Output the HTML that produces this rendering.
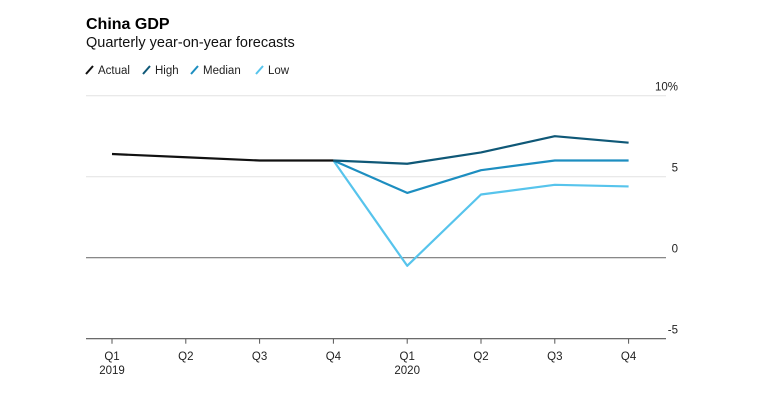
<!DOCTYPE html>
<html><head><meta charset="utf-8"><style>
body{margin:0;background:#fff;width:781px;height:404px;overflow:hidden;font-family:"Liberation Sans",Arial,sans-serif;}
svg{display:block}
</style></head><body>
<svg id="chart" width="781" height="404" viewBox="0 0 781 404">
<text x="86" y="29" font-size="16" font-weight="bold" fill="#000">China GDP</text>
<text x="86" y="47" font-size="14.5" fill="#111">Quarterly year-on-year forecasts</text>
<g id="legend"></g>
<g id="grid"></g><g id="lines"></g><g id="axis"></g>
</svg>
<script>
const categories=["Q1","Q2","Q3","Q4","Q1","Q2","Q3","Q4"];
const years=["2019","","","","2020","","",""];
const actual=[6.4,6.2,6.0,6.0,null,null,null,null];
const high=[null,null,null,6.0,5.8,6.5,7.5,7.1];
const median=[null,null,null,6.0,4.0,5.4,6.0,6.0];
const low=[null,null,null,6.0,-0.5,3.9,4.5,4.4];
const yTicks=[10,5,0,-5];
const yTickLabels=["10%","5","0","-5"];
const NS="http://www.w3.org/2000/svg";
const x=i=>112+i*73.8;
const y=v=>257.7-16.2*v;
function mk(t,a,p){const e=document.createElementNS(NS,t);for(const k in a)e.setAttribute(k,a[k]);p.appendChild(e);return e;}
const grid=document.getElementById('grid');
yTicks.forEach((v,i)=>{
  if(v!==-5){const l=mk('line',{x1:86,x2:666,y1:y(v),y2:y(v),stroke:v===0?'#777':'#e2e2e2','stroke-width':v===0?1.2:1},grid);
  
  }
  const t=mk('text',{x:678,y:y(v)-5,'text-anchor':'end','font-size':'11.5',fill:'#222'},grid);
  t.textContent=yTickLabels[i];
  
  
});
const axis=document.getElementById('axis');
const al=mk('line',{x1:86,x2:666,y1:y(-5),y2:y(-5),stroke:'#555','stroke-width':1.2},axis);


categories.forEach((c,i)=>{
  mk('line',{x1:x(i),x2:x(i),y1:y(-5),y2:y(-5)+5,stroke:'#555'},axis);
  const t=mk('text',{x:x(i),y:360,'text-anchor':'middle','font-size':'11.5',fill:'#222'},axis);
  t.textContent=c;
  
  
  if(years[i]){const yt=mk('text',{x:x(i),y:374,'text-anchor':'middle','font-size':'11.5',fill:'#222'},axis);
  yt.textContent=years[i];
  
  }
});
const series=[["actual",actual,"#111"],["high",high,"#0f5877"],["median",median,"#1d8ec0"],["low",low,"#57c4ec"]];
const lines=document.getElementById('lines');
series.slice().reverse().forEach(([n,d,c])=>{
  const pts=[];d.forEach((v,i)=>{if(v!==null)pts.push(x(i)+','+y(v));});
  const p=mk('polyline',{points:pts.join(' '),fill:'none',stroke:c,'stroke-width':2.2,'stroke-linejoin':'round'},lines);
  
  
});
const legend=document.getElementById('legend');
const names=["Actual","High","Median","Low"];const lx=[86,143,191,256];
names.forEach((nm,i)=>{
  mk('line',{x1:lx[i],y1:74,x2:lx[i]+7,y2:66,stroke:series[i][2],'stroke-width':2},legend);
  const t=mk('text',{x:lx[i]+12,y:74,'font-size':'11.5',fill:'#222'},legend);
  t.textContent=nm;
  
  
});
</script>
</body></html>
